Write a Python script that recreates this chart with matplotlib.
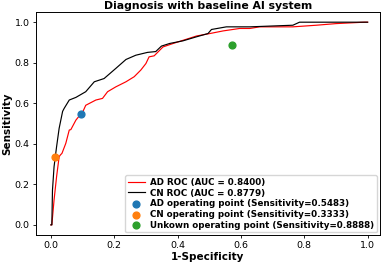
import matplotlib
matplotlib.use("Agg")
import matplotlib.pyplot as plt

# ROC curves (1-specificity, sensitivity)
ad_fpr = [0.0, 0.003, 0.010, 0.018, 0.026, 0.030, 0.035, 0.047, 0.058, 0.063, 0.079,
          0.095, 0.100, 0.110, 0.142, 0.163, 0.179, 0.205, 0.237, 0.263, 0.284,
          0.300, 0.310, 0.326, 0.354, 0.386, 0.460, 0.502, 0.544, 0.596, 0.628,
          0.659, 0.764, 0.838, 0.900, 0.990, 1.0]
ad_tpr = [0.0, 0.0, 0.123, 0.238, 0.336, 0.345, 0.353, 0.402, 0.468, 0.470, 0.517,
          0.548, 0.555, 0.590, 0.616, 0.624, 0.657, 0.681, 0.706, 0.731, 0.764,
          0.796, 0.829, 0.834, 0.878, 0.895, 0.932, 0.944, 0.957, 0.969, 0.969,
          0.977, 0.977, 0.985, 0.993, 1.0, 1.0]

cn_fpr = [0.0, 0.003, 0.005, 0.010, 0.018, 0.026, 0.037, 0.042, 0.058, 0.079, 0.110,
          0.137, 0.168, 0.205, 0.237, 0.268, 0.305, 0.331, 0.349, 0.375, 0.417,
          0.460, 0.496, 0.507, 0.554, 0.628, 0.764, 0.785, 0.990, 1.0]
cn_tpr = [0.0, 0.0, 0.172, 0.287, 0.386, 0.476, 0.560, 0.575, 0.616, 0.629, 0.657,
          0.706, 0.722, 0.772, 0.816, 0.837, 0.851, 0.855, 0.882, 0.895, 0.908,
          0.928, 0.944, 0.964, 0.977, 0.977, 0.985, 1.0, 1.0, 1.0]

ad_auc = 0.8400
cn_auc = 0.8779

op_names = ["AD", "CN", "Unkown"]
op_fpr = [0.095, 0.013, 0.573]
op_tpr = [0.5483, 0.3333, 0.8888]
op_colors = ["tab:blue", "tab:orange", "tab:green"]

fig = plt.figure(figsize=(3.81, 2.62), dpi=100)
ax = fig.add_axes([0.0945, 0.103, 0.902, 0.851])

ax.plot(ad_fpr, ad_tpr, color="red", linewidth=0.85,
        label="AD ROC (AUC = %.4f)" % ad_auc)
ax.plot(cn_fpr, cn_tpr, color="black", linewidth=0.85,
        label="CN ROC (AUC = %.4f)" % cn_auc)
for name, x, y, c in zip(op_names, op_fpr, op_tpr, op_colors):
    ax.scatter([x], [y], s=24, color=c, zorder=3,
               label="%s operating point (Sensitivity=%.4f)" % (name, y))

ax.set_xlim(-0.047, 1.038)
ax.set_ylim(-0.05, 1.05)
ax.set_xticks([0.0, 0.2, 0.4, 0.6, 0.8, 1.0])
ax.set_yticks([0.0, 0.2, 0.4, 0.6, 0.8, 1.0])
ax.tick_params(labelsize=6.8, length=2.5, width=0.6, pad=2)
for s in ax.spines.values():
    s.set_linewidth(0.7)

ax.set_title("Diagnosis with baseline AI system", fontsize=7.8, fontweight="bold", pad=2)
ax.set_xlabel("1-Specificity", fontsize=7.5, fontweight="bold", labelpad=1)
ax.set_ylabel("Sensitivity", fontsize=7.5, fontweight="bold", labelpad=2)

ax.legend(loc="lower right", prop={"size": 6.3, "weight": "bold"},
          handlelength=2.0, handletextpad=0.6, labelspacing=0.2,
          borderpad=0.3, borderaxespad=0.3, framealpha=0.8)

fig.savefig("out.png", dpi=100)
